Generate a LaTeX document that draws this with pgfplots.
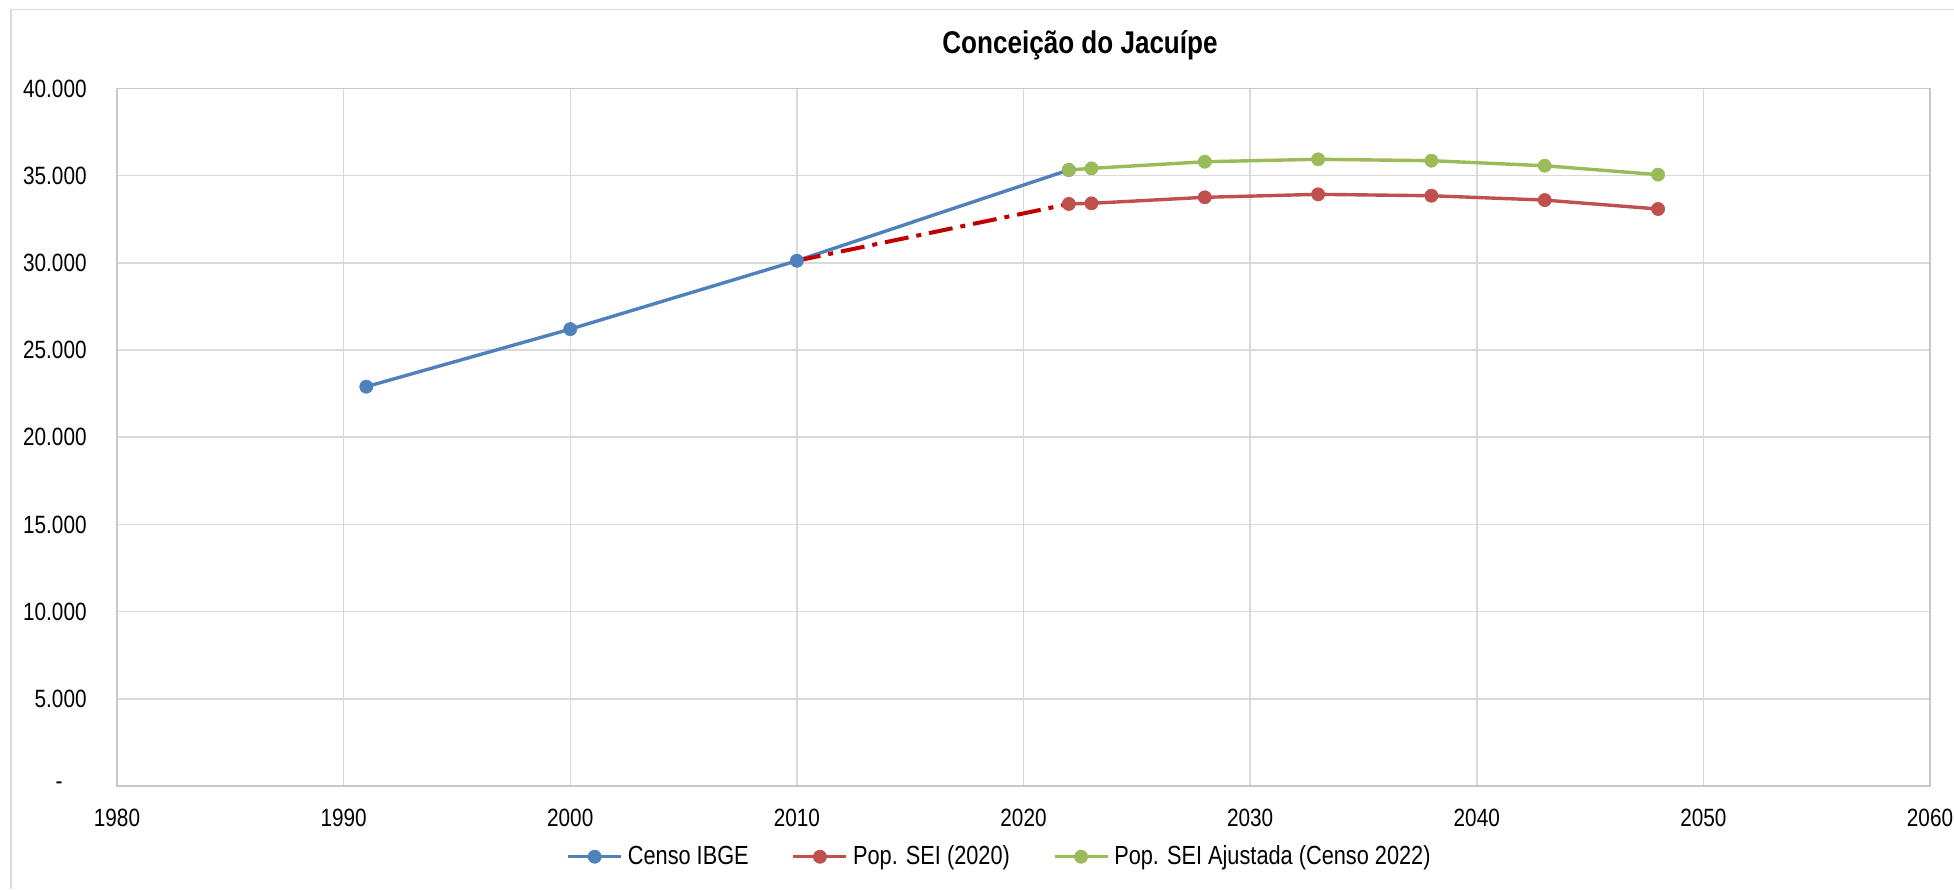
\documentclass[border=0pt]{standalone}
\usepackage{fontspec}
\setmainfont{Liberation Sans}[FakeStretch=0.83]
\usepackage{pgfplots}
\usepackage{pgfplotstable}
\pgfplotsset{compat=1.18}

\definecolor{censo}{HTML}{4F81BD}
\definecolor{sei}{HTML}{C0504D}
\definecolor{ajust}{HTML}{9BBB59}
\definecolor{tend}{HTML}{C00000}
\definecolor{grade}{HTML}{D9D9D9}
\definecolor{eixo}{HTML}{C8C8C8}

% Censo IBGE
\pgfplotstableread{
ano pop
1991 22900
2000 26200
2010 30123
2022 35330
}\censo

% Pop. SEI (2020)
\pgfplotstableread{
ano pop
2022 33380
2023 33415
2028 33760
2033 33930
2038 33850
2043 33600
2048 33090
}\sei

% Pop. SEI Ajustada (Censo 2022)
\pgfplotstableread{
ano pop
2022 35330
2023 35420
2028 35800
2033 35940
2038 35860
2043 35570
2048 35060
}\ajust

% ligacao tracejada 2010 -> 2022
\pgfplotstableread{
ano pop
2010 30123
2022 33380
}\tendencia

\begin{document}
\begin{tikzpicture}
\path[use as bounding box] (-58.5pt,-51.5pt) rectangle (918.5pt,393pt);
\draw[grade, line width=0.75pt] (-53pt,-51.5pt) -- (-53pt,388.35pt) -- (918.5pt,388.35pt);
\node[font=\fontsize{15.7}{19}\selectfont\bfseries] at (481.5pt,370.5pt) {Conceição do Jacuípe};
\begin{axis}[
	scale only axis,
	width=906.5pt, height=348.75pt,
	xmin=1980, xmax=2060,
	ymin=0, ymax=40000,
	scaled y ticks=false,
	xtick={1980,1990,2000,2010,2020,2030,2040,2050,2060},
	xticklabels={1980,1990,2000,2010,2020,2030,2040,2050,2060},
	ytick={0,5000,10000,15000,20000,25000,30000,35000,40000},
	yticklabels={{-\rule{12pt}{0pt}},5.000,10.000,15.000,20.000,25.000,30.000,35.000,40.000},
	major tick length=0pt,
	xmajorgrids, ymajorgrids,
	grid style={grade, line width=0.75pt},
	axis line style={eixo, line width=0.75pt},
	tick label style={font=\fontsize{12.5}{15}\selectfont},
	yticklabel style={inner sep=0pt, xshift=-15pt},
	xticklabel style={inner sep=0pt, yshift=-11.5pt},
	clip=false,
	legend columns=3,
	legend style={draw=none, fill=none, inner sep=0pt, anchor=west,
		at={(0.2477,-0.1014)},
		font=\fontsize{13.1}{15}\selectfont,
		nodes={inner xsep=2.5pt, inner ysep=0pt},
		/tikz/every even column/.append style={column sep=19pt}},
	legend image code/.code={
		\draw[mark repeat=2, mark phase=2] plot coordinates {(0pt,0pt) (13.25pt,0pt) (26.5pt,0pt)};},
	every axis plot/.append style={line width=1.7pt, mark size=3.3pt},
]
\addplot[censo, mark=*, mark options={solid, fill=censo, draw=censo, line width=0.3pt}] table[x=ano, y=pop] {\censo};
\addlegendentry{Censo IBGE}

\addplot[tend, line width=2pt, dash pattern=on 12pt off 4pt on 2.5pt off 4pt, forget plot] table[x=ano, y=pop] {\tendencia};

\addplot[sei, mark=*, mark options={solid, fill=sei, draw=sei, line width=0.3pt}] table[x=ano, y=pop] {\sei};
\addlegendentry{Pop. SEI (2020)}

\addplot[ajust, mark=*, mark options={solid, fill=ajust, draw=ajust, line width=0.3pt}] table[x=ano, y=pop] {\ajust};
\addlegendentry{Pop. SEI Ajustada (Censo 2022)}
\end{axis}
\end{tikzpicture}
\end{document}
